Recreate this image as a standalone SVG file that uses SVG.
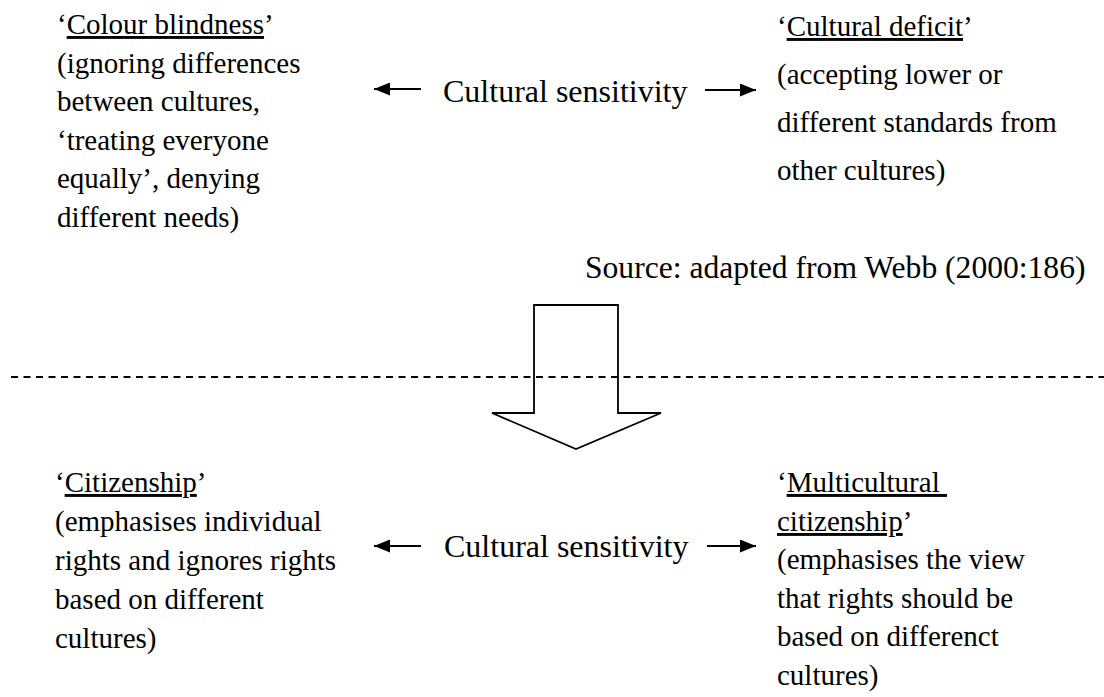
<svg xmlns="http://www.w3.org/2000/svg" width="1104" height="697" viewBox="0 0 1104 697" font-family="Liberation Serif, Times New Roman, DejaVu Serif, serif">
<style>
text{font-family:"Liberation Serif","Times New Roman","DejaVu Serif",serif;fill:#000;}
.t{font-size:29px;}
.big{font-size:32px;}
.u{text-decoration:underline;}
.conn{stroke:#000;stroke-width:2;fill:none;}
</style>
<defs>
<marker id="ah" markerUnits="userSpaceOnUse" markerWidth="17" markerHeight="13" refX="16" refY="6.5" orient="auto">
<path d="M0,0 L16,6.5 L0,13 z" fill="#000"/>
</marker>
</defs>
<rect width="1104" height="697" fill="#fff"/>
<g id="colour-blindness">
<text class="t" x="57" y="34">‘<tspan class="u">Colour blindness</tspan>’</text>
<text class="t" x="57" y="72.5">(ignoring differences</text>
<text class="t" x="57" y="111">between cultures,</text>
<text class="t" x="57" y="149.5">‘treating everyone</text>
<text class="t" x="57" y="188">equally’, denying</text>
<text class="t" x="57" y="226.5">different needs)</text>
</g>
<g id="sensitivity-top">
<text class="big" x="443" y="102">Cultural sensitivity</text>
</g>
<g id="cultural-deficit">
<text class="t" x="777" y="36">‘<tspan class="u">Cultural deficit</tspan>’</text>
<text class="t" x="777" y="84">(accepting lower or</text>
<text class="t" x="777" y="132">different standards from</text>
<text class="t" x="777" y="180">other cultures)</text>
</g>
<g id="source">
<text class="big" x="585" y="278" style="font-size:31.6px">Source: adapted from Webb (2000:186)</text>
</g>
<g id="divider">
<line x1="11" y1="377" x2="1104" y2="377" stroke="#000" stroke-width="2" stroke-dasharray="7 5.5"/>
</g>
<g id="block-arrow">
<polygon points="534,305 618,305 618,413 661,413 576,449 492,413 534,413" fill="none" stroke="#000" stroke-width="1.8" stroke-linejoin="miter"/>
</g>
<g id="citizenship">
<text class="t" x="55" y="492">‘<tspan class="u">Citizenship</tspan>’</text>
<text class="t" x="55" y="531">(emphasises individual</text>
<text class="t" x="55" y="570">rights and ignores rights</text>
<text class="t" x="55" y="609">based on different</text>
<text class="t" x="55" y="648">cultures)</text>
</g>
<g id="sensitivity-bottom">
<text class="big" x="444" y="557">Cultural sensitivity</text>
</g>
<g id="multicultural-citizenship">
<text class="t" x="777" y="492" style="white-space:pre">‘<tspan class="u">Multicultural </tspan></text>
<text class="t" x="777" y="531"><tspan class="u">citizenship</tspan>’</text>
<text class="t" x="777" y="569">(emphasises the view</text>
<text class="t" x="777" y="608">that rights should be</text>
<text class="t" x="777" y="646">based on differenct</text>
<text class="t" x="777" y="685">cultures)</text>
</g>
<g id="connectors">
<line class="conn" x1="421" y1="89" x2="374" y2="89" marker-end="url(#ah)"/>
<line class="conn" x1="705" y1="90" x2="756" y2="90" marker-end="url(#ah)"/>
<line class="conn" x1="421" y1="546" x2="374" y2="546" marker-end="url(#ah)"/>
<line class="conn" x1="707" y1="546" x2="756" y2="546" marker-end="url(#ah)"/>
</g>
</svg>
